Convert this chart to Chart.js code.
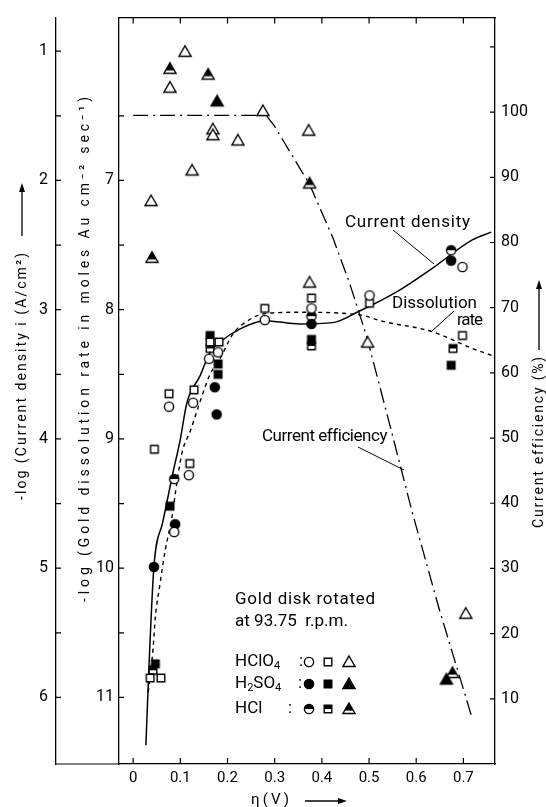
<!DOCTYPE html>
<html><head><meta charset="utf-8">
<script src="https://cdn.jsdelivr.net/npm/chart.js@4"></script>
<style>html,body{margin:0;padding:0;background:#fff}#wrap{width:546px;height:807px}</style>
</head><body><div id="wrap"><canvas id="c" width="546" height="807"></canvas></div>
<script>
// ---------- tick labels ----------
const xTicks  = [0, 0.1, 0.2, 0.3, 0.4, 0.5, 0.6, 0.7];
const cdTicks = [1, 2, 3, 4, 5, 6];          // -log(current density)
const drTicks = [7, 8, 9, 10, 11];           // -log(gold dissolution rate)
const ceTicks = [10, 20, 30, 40, 50, 60, 70, 80, 90, 100]; // current efficiency %
const cdMarks = [1, 1.5, 2, 2.5, 3, 3.5, 4, 4.5, 5, 5.5, 6];
const drMarks = [6.5, 7, 7.5, 8, 8.5, 9, 9.5, 10, 10.5, 11];
const ceMarks = [10, 20, 30, 40, 50, 60, 70, 80, 90, 100, 110];

// ---------- current density (circles), [eta, -log i] ----------
const cdHClO4 = [[0.076,3.75],[0.127,3.72],[0.118,4.28],[0.087,4.72],[0.161,3.38],[0.18,3.33],[0.279,3.08],[0.378,2.99],[0.501,2.89],[0.698,2.67]];
const cdH2SO4 = [[0.044,4.99],[0.089,4.66],[0.173,3.6],[0.177,3.81],[0.378,3.11],[0.674,2.62]];
const cdHCl   = [[0.087,4.31],[0.378,3.05],[0.674,2.54]];

// ---------- gold dissolution rate (squares), [eta, -log rate] ----------
const drHClO4 = [[0.045,9.08],[0.076,8.65],[0.129,8.62],[0.12,9.19],[0.163,8.25],[0.182,8.25],[0.279,7.99],[0.378,7.91],[0.501,7.95],[0.698,8.2],[0.036,10.85],[0.059,10.85]];
const drH2SO4 = [[0.078,9.52],[0.163,8.2],[0.18,8.42],[0.18,8.5],[0.378,8.23],[0.674,8.43],[0.047,10.74]];
const drHCl   = [[0.163,8.3],[0.378,8.28],[0.678,8.3],[0.042,10.79]];

// ---------- current efficiency (triangles), [eta, %] ----------
const ceHClO4 = [[0.11,109.1],[0.078,103.6],[0.275,100],[0.169,97.2],[0.169,96.3],[0.222,95.5],[0.125,90.9],[0.372,97.0],[0.038,86.2],[0.374,73.7],[0.497,64.5],[0.705,22.9]];
const ceH2SO4 = [[0.178,101.5],[0.664,12.8]];
const ceHCl   = [[0.078,106.5],[0.159,105.6],[0.374,88.9],[0.04,77.5],[0.677,13.8]];

// ---------- fitted curves ----------
const cdCurve = [[0.027,6.37],[0.034,5.72],[0.044,4.99],[0.063,4.64],[0.085,4.25],[0.099,4.02],[0.114,3.72],[0.142,3.51],[0.163,3.33],[0.184,3.25],[0.226,3.15],[0.279,3.085],[0.353,3.11],[0.423,3.1],[0.48,3.01],[0.564,2.85],[0.634,2.68],[0.719,2.46],[0.759,2.4]];
const drCurve = [[0.032,10.96],[0.042,10.63],[0.047,10.38],[0.057,10.12],[0.068,9.86],[0.082,9.61],[0.093,9.33],[0.104,9.1],[0.121,8.94],[0.142,8.71],[0.163,8.5],[0.184,8.38],[0.211,8.19],[0.241,8.09],[0.279,8.03],[0.353,8.02],[0.48,8.04],[0.529,8.09],[0.634,8.17],[0.719,8.3],[0.765,8.36]];
const ceCurve = [[0,99.5],[0.264,99.5],[0.279,99.8],[0.30,97.8],[0.374,88.9],[0.423,80.8],[0.459,73.7],[0.495,65.6],[0.543,52.3],[0.592,38.5],[0.649,23.7],[0.702,11.0],[0.719,6.9]];

const FONT = 'Roboto, "DejaVu Sans", sans-serif';
Chart.defaults.font.family = FONT;
Chart.defaults.color = '#000';

function makeMarker(shape, fill) {
  const c = document.createElement('canvas'); c.width = 18; c.height = 18;
  const g = c.getContext('2d'); const m = 9;
  const path = () => {
    g.beginPath();
    if (shape === 'circle') g.arc(m, m, 4.6, 0, Math.PI * 2);
    else if (shape === 'square') g.rect(m - 3.8, m - 3.8, 7.6, 7.6);
    else { g.moveTo(m, m - 7); g.lineTo(m + 6.06, m + 3.5); g.lineTo(m - 6.06, m + 3.5); g.closePath(); }
  };
  path(); g.fillStyle = fill === 'filled' ? '#000' : '#fff'; g.fill();
  if (fill === 'half') {
    g.save(); path(); g.clip(); g.fillStyle = '#000';
    if (shape === 'triangle') g.fillRect(0, 0, 18, m + 0.6); else g.fillRect(0, 0, 18, m);
    g.restore();
  }
  path(); g.lineWidth = 1.4; g.strokeStyle = '#000'; g.stroke();
  return c;
}
const MK = {};
['circle','square','triangle'].forEach(s => ['open','filled','half'].forEach(f => MK[s + f] = makeMarker(s, f)));

const toXY = a => a.map(([x, y]) => ({x, y}));
const pts = (label, data, axis, mk) => ({label, data: toXY(data), yAxisID: axis, pointStyle: mk, pointRadius: 5, order: 0, showLine: false});
const curve = (label, data, axis, extra) => Object.assign({label, data: toXY(data), yAxisID: axis, showLine: true, pointRadius: 0, borderColor: '#000', borderWidth: 1.5, fill: false, order: 10}, extra);

function txt(ctx, s, x, y, size, width) {
  ctx.font = size + 'px ' + FONT;
  ctx.letterSpacing = '0px';
  if (width) { const w = ctx.measureText(s).width; ctx.letterSpacing = ((width - w) / Math.max(1, s.length - 1)) + 'px'; }
  ctx.fillText(s, x, y);
  const adv = ctx.measureText(s).width;
  ctx.letterSpacing = '0px';
  return adv;
}
function vtext(ctx, s, cx, y0, y1, size) {
  ctx.save(); ctx.translate(cx, y0); ctx.rotate(-Math.PI / 2);
  ctx.textAlign = 'left'; ctx.textBaseline = 'middle';
  txt(ctx, s, 0, 0, size, y0 - y1);
  ctx.restore();
}
function arrowUp(ctx, x, yFrom, yTo) {
  ctx.beginPath(); ctx.moveTo(x, yFrom); ctx.lineTo(x, yTo + 6); ctx.stroke();
  ctx.beginPath(); ctx.moveTo(x, yTo); ctx.lineTo(x - 3, yTo + 9); ctx.lineTo(x + 3, yTo + 9); ctx.closePath(); ctx.fill();
}
function arrowRight(ctx, y, xFrom, xTo) {
  ctx.beginPath(); ctx.moveTo(xFrom, y); ctx.lineTo(xTo - 6, y); ctx.stroke();
  ctx.beginPath(); ctx.moveTo(xTo, y); ctx.lineTo(xTo - 9, y - 3); ctx.lineTo(xTo - 9, y + 3); ctx.closePath(); ctx.fill();
}

const decor = {
  id: 'decor',
  afterDraw(chart) {
    const {ctx, scales: s, chartArea: a} = chart;
    ctx.save();
    ctx.strokeStyle = '#000'; ctx.fillStyle = '#000'; ctx.lineWidth = 1.2;
    // tick marks (inward)
    ctx.beginPath();
    cdMarks.forEach(v => { const y = s.yCD.getPixelForValue(v); ctx.moveTo(s.yCD.right, y); ctx.lineTo(s.yCD.right + 5, y); });
    drMarks.forEach(v => { const y = s.yDR.getPixelForValue(v); ctx.moveTo(a.left, y); ctx.lineTo(a.left + 5, y); });
    ceMarks.forEach(v => { const y = s.yCE.getPixelForValue(v); ctx.moveTo(a.right, y); ctx.lineTo(a.right - 5, y); });
    xTicks.forEach(v => { const x = s.x.getPixelForValue(v); ctx.moveTo(x, a.bottom); ctx.lineTo(x, a.bottom - 6); ctx.moveTo(x, a.top); ctx.lineTo(x, a.top + 6); });
    ctx.moveTo(s.yCD.right, a.bottom); ctx.lineTo(a.left, a.bottom);
    ctx.stroke();

    // axis titles
    ctx.lineWidth = 1.3;
    vtext(ctx, '-log (Current density i (A/cm²)', 22, 500, 253, 14);
    arrowUp(ctx, 22, 236, 183);
    vtext(ctx, '-log (Gold dissolution rate in moles Au cm⁻² sec⁻¹)', 85, 602, 97, 14);
    vtext(ctx, 'Current efficiency (%)', 539, 528, 358, 14);
    arrowUp(ctx, 539, 350, 280);
    ctx.textBaseline = 'middle'; ctx.textAlign = 'left';
    txt(ctx, 'η(V)', 251, 800, 15, 38);
    arrowRight(ctx, 801, 305, 347);

    // curve annotations
    txt(ctx, 'Current density', 345, 223, 17, 125);
    txt(ctx, 'Dissolution', 392, 304, 17, 85);
    txt(ctx, 'rate', 457, 321, 17, 26);
    txt(ctx, 'Current efficiency', 262, 437, 17, 124);
    ctx.lineWidth = 1;
    ctx.beginPath();
    ctx.moveTo(393, 230); ctx.lineTo(434, 264);
    ctx.moveTo(454, 311); ctx.lineTo(432, 331);
    ctx.moveTo(358, 447); ctx.lineTo(404, 470);
    ctx.stroke();

    // key box
    txt(ctx, 'Gold disk rotated', 235, 600, 17, 140);
    txt(ctx, 'at 93.75  r.p.m.', 235, 622, 17, 113);
    const sub = (parts, x, y) => {
      parts.forEach(([t, isSub]) => { x += txt(ctx, t, x, isSub ? y + 4 : y, isSub ? 11 : 17); });
    };
    sub([['HClO', 0], ['4', 1]], 235, 662);
    sub([['H', 0], ['2', 1], ['SO', 0], ['4', 1]], 235, 684);
    sub([['HCl', 0]], 235, 709);
    txt(ctx, ':', 299, 662, 17); txt(ctx, ':', 298, 684, 17); txt(ctx, ':', 288, 709, 17);
    const rows = [['open', 662], ['filled', 684], ['half', 709]];
    rows.forEach(([f, y]) => {
      ctx.drawImage(MK['circle' + f], 309 - 9, y - 9);
      ctx.drawImage(MK['square' + f], 328 - 9, y - 9);
      ctx.drawImage(MK['triangle' + f], 349 - 9, y - 8);
    });
    ctx.restore();
  }
};

const baseAxis = {
  grid: {display: true, drawOnChartArea: false, drawTicks: false},
  border: {display: true, color: '#000', width: 1.3}
};

new Chart(document.getElementById('c'), {
  type: 'scatter',
  data: {
    datasets: [
      curve('Current density', cdCurve, 'yCD', {cubicInterpolationMode: 'monotone'}),
      curve('Dissolution rate', drCurve, 'yDR', {cubicInterpolationMode: 'monotone', borderDash: [4, 4], borderWidth: 1.4}),
      curve('Current efficiency', ceCurve, 'yCE', {tension: 0, borderDash: [15, 5, 2, 5], borderWidth: 1.3}),
      pts('HClO4 current density', cdHClO4, 'yCD', MK.circleopen),
      pts('H2SO4 current density', cdH2SO4, 'yCD', MK.circlefilled),
      pts('HCl current density', cdHCl, 'yCD', MK.circlehalf),
      pts('HClO4 dissolution rate', drHClO4, 'yDR', MK.squareopen),
      pts('H2SO4 dissolution rate', drH2SO4, 'yDR', MK.squarefilled),
      pts('HCl dissolution rate', drHCl, 'yDR', MK.squarehalf),
      pts('HClO4 current efficiency', ceHClO4, 'yCE', MK.triangleopen),
      pts('H2SO4 current efficiency', ceH2SO4, 'yCE', MK.trianglefilled),
      pts('HCl current efficiency', ceHCl, 'yCE', MK.trianglehalf)
    ]
  },
  options: {
    responsive: false, animation: false, devicePixelRatio: 1,
    layout: {padding: {top: 13, left: 0, right: 0, bottom: 0}},
    plugins: {legend: {display: false}, tooltip: {enabled: false}},
    scales: {
      x: Object.assign({}, baseAxis, {type: 'linear', position: 'bottom', min: -0.03, max: 0.767,
        afterBuildTicks: sc => { sc.ticks = xTicks.map(v => ({value: v})); },
        afterFit: sc => { sc.height = 43; },
        ticks: {padding: 5, font: {size: 15}, maxRotation: 0, autoSkip: false, callback: v => v === 0 ? '0' : Number(v).toFixed(1)}}),
      xTop: Object.assign({}, baseAxis, {type: 'linear', position: 'top', min: -0.03, max: 0.767,
        ticks: {display: false}, afterFit: sc => { sc.height = 0; }}),
      yCD: Object.assign({}, baseAxis, {type: 'linear', position: 'left', reverse: true, min: 0.74, max: 6.515, weight: 2,
        afterBuildTicks: sc => { sc.ticks = cdTicks.map(v => ({value: v})); },
        afterFit: sc => { sc.width = 56; },
        ticks: {padding: 8, font: {size: 16}, autoSkip: false}}),
      yDR: Object.assign({}, baseAxis, {type: 'linear', position: 'left', reverse: true, min: 5.74, max: 11.515, weight: 1,
        afterBuildTicks: sc => { sc.ticks = drTicks.map(v => ({value: v})); },
        afterFit: sc => { sc.width = 63; },
        ticks: {padding: 5, font: {size: 16}, autoSkip: false}}),
      yCE: Object.assign({}, baseAxis, {type: 'linear', position: 'right', min: 0, max: 114.5,
        afterBuildTicks: sc => { sc.ticks = ceTicks.map(v => ({value: v})); },
        afterFit: sc => { sc.width = 51; },
        ticks: {padding: 6, font: {size: 16}, autoSkip: false}})
    }
  },
  plugins: [decor]
});
</script>
</body></html>
